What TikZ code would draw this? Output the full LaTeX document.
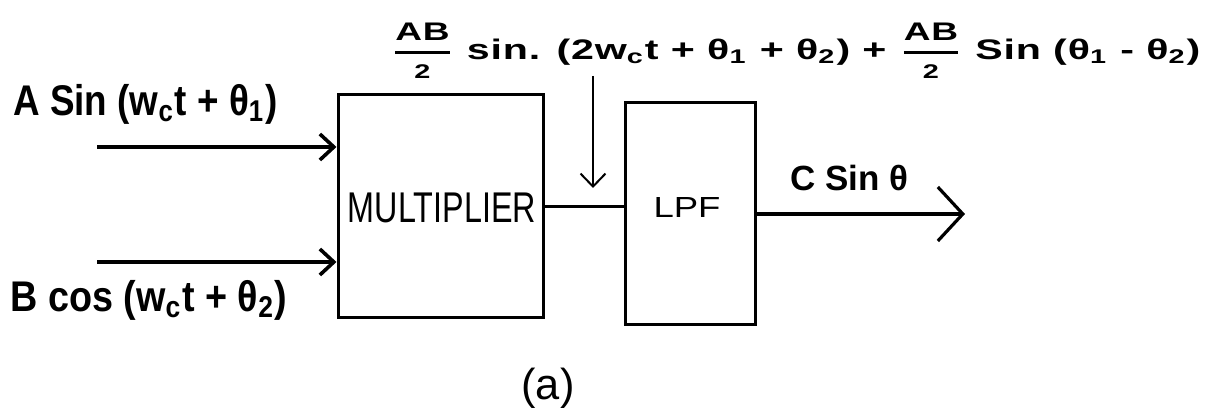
\documentclass[tikz,border=0pt]{standalone}
\usepackage{fontspec}
\usepackage{graphicx}
\usepackage{amsmath}
\setmainfont{Liberation Sans}
\usetikzlibrary{arrows.meta}
\newcommand{\fitw}[2]{\resizebox{#1}{!}{#2}}
\newcommand{\fitwh}[3]{\resizebox*{#1}{#2}{#3}}
\newcommand{\sbs}[1]{\textsubscript{#1}}
\newcommand{\halfab}{$\genfrac{}{}{0.9pt}{0}{\textbf{\small AB}}{\textbf{\scriptsize 2}}$}
\begin{document}
\begin{tikzpicture}[x=0.5pt,y=-0.5pt,
  block/.style={draw, line width=1.5pt, inner sep=0pt},
  lab/.style={font=\bfseries, inner sep=0pt},
  boxtext/.style={inner sep=0pt},
  sig/.style={line width=1.8pt, -{Straight Barb[length=7pt,width=13pt]}},
  tap/.style={line width=1pt, -{Straight Barb[length=6.5pt,width=12.5pt]}},
  outsig/.style={line width=1.6pt, -{Straight Barb[length=12.5pt,width=27pt]}}]
\useasboundingbox (0,0) rectangle (1212,410);

% blocks
\node[block, minimum width=102.5pt, minimum height=111.5pt] (mult) at (440.5,206.5) {};
\node[boxtext] (multtxt) at (442,208) {\fitwh{94pt}{15pt}{MULTIPLIER}};
\node[block, minimum width=65pt, minimum height=111pt] (lpf) at (690,214) {};
\node[boxtext] (lpftxt) at (687,208) {\fitwh{33.5pt}{10pt}{LPF}};

% labels
\node[lab, anchor=west] (la) at (13,104) {\fitwh{132pt}{20pt}{A Sin (w\sbs{c}t + θ\sbs{1})}};
\node[lab, anchor=west] (lb) at (10,300) {\fitwh{138.5pt}{20pt}{B cos (w\sbs{c}t + θ\sbs{2})}};
\node[lab, anchor=west] (ltop) at (390,51) {\fitwh{405pt}{28pt}{\addfontfeature{LetterSpace=2}\halfab{} sin. (2w\sbs{c}t + θ\sbs{1} + θ\sbs{2}) + \halfab{} Sin (θ\sbs{1} - θ\sbs{2})}};
\node[lab, anchor=west] (lc) at (790,178) {\fitw{59pt}{C Sin θ}};
\node[boxtext] (capa) at (548,388) {\fitw{26.5pt}{(a)}};

% connectors
\coordinate (in1) at (97,147);
\coordinate (in2) at (97,262);
\coordinate (dtop) at (593,76);
\coordinate (dtip) at (593,188);
\coordinate (out) at (965,214);
\draw[sig] (in1) -- (mult.west |- in1);
\draw[sig] (in2) -- (mult.west |- in2);
\draw[line width=1.6pt] (mult.east) -- (mult.east -| lpf.west);
\draw[tap] (dtop) -- (dtip);
\draw[outsig] (lpf.east) -- (out);
\end{tikzpicture}
\end{document}
